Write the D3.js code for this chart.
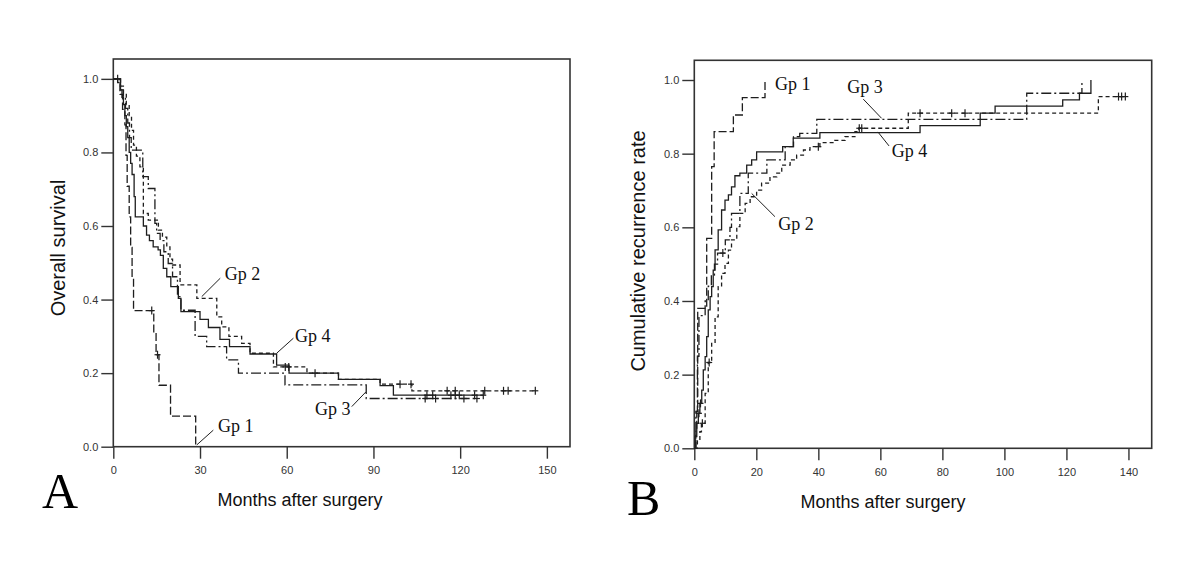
<!DOCTYPE html>
<html><head><meta charset="utf-8">
<script src="https://cdn.jsdelivr.net/npm/d3@7"></script>
<style>
html,body{margin:0;padding:0;background:#fff;}
svg{display:block;}
</style></head>
<body>
<svg id="chart" width="1200" height="572"></svg>
<script>
// ---------- DATA ----------
const groups = ["Gp 1", "Gp 2", "Gp 3", "Gp 4"];
const monthTicksA = [0, 30, 60, 90, 120, 150];
const monthTicksB = [0, 20, 40, 60, 80, 100, 120, 140];
const rateTicks = [0.0, 0.2, 0.4, 0.6, 0.8, 1.0];

// Panel A: overall survival, step points [month, survival]
const survGp1 = [[0,1],[2.3,0.958],[3.2,0.917],[4.0,0.875],[4.4,0.792],[4.8,0.708],[5.5,0.625],[6.0,0.542],[6.5,0.458],[7.0,0.37],[14.0,0.31],[14.8,0.25],[15.8,0.167],[19.8,0.083],[28.5,0]];
const survGp2 = [[0,1],[2.5,0.98],[3.5,0.96],[4.5,0.93],[5.5,0.90],[6.3,0.86],[7.0,0.82],[8.0,0.79],[9.2,0.761],[10.4,0.634],[12.1,0.616],[15.6,0.589],[17.0,0.57],[18.5,0.543],[19.6,0.51],[20.5,0.494],[23.1,0.44],[28.9,0.403],[35.8,0.353],[37.5,0.326],[40.0,0.30],[44.4,0.281],[47.3,0.254],[55.4,0.217],[67.0,0.2],[77.9,0.183],[92.3,0.17],[103.3,0.152]];
const survGp3 = [[0,1],[1.5,0.99],[2.5,0.97],[3.5,0.95],[4.2,0.92],[5.0,0.88],[5.6,0.84],[6.2,0.806],[10.2,0.734],[12.1,0.702],[14.4,0.607],[15.0,0.58],[16.2,0.56],[17.5,0.53],[19.0,0.498],[20.5,0.462],[22.2,0.408],[23.4,0.371],[28.3,0.30],[32.3,0.272],[39.2,0.236],[43.3,0.2],[59.4,0.168],[87.5,0.131]];
const survGp4 = [[0,1],[2.5,0.97],[3.0,0.95],[3.5,0.93],[4.0,0.90],[4.5,0.87],[5.0,0.84],[5.5,0.80],[6.0,0.77],[6.5,0.74],[7.2,0.68],[7.6,0.625],[10.4,0.60],[11.5,0.575],[12.5,0.56],[13.8,0.543],[15.5,0.535],[16.3,0.52],[17.3,0.485],[18.5,0.462],[19.9,0.435],[22.5,0.403],[23.4,0.367],[30.0,0.346],[32.9,0.324],[36.9,0.292],[40.2,0.272],[47.3,0.252],[56.5,0.222],[60.8,0.2],[77.9,0.183],[92.3,0.166],[96.9,0.14]];
const survEnd = [28.5, 146, 125.8, 128];
const survCensGp1 = [13.3, 15.3];
const survCensGp2 = [59.5, 60.7, 99.2, 103.0, 115.5, 118.3, 128.5, 135.0, 136.6, 146.0];
const survCensGp3 = [107.9, 111.5, 121.3, 125.8];
const survCensGp4 = [1.5, 69.8, 108.5, 110.5, 116.8, 118.3, 119.7, 125.0, 128.0];

// Panel B: cumulative recurrence rate, step points [month, rate]
const recGp1 = [[0,0],[0.5,0.05],[0.8,0.1],[1.1,0.38],[4.0,0.57],[5.6,0.765],[6.4,0.86],[12.6,0.905],[15.5,0.952],[22.8,1.0]];
const recGp2 = [[0,0],[1.0,0.02],[1.8,0.045],[2.3,0.068],[3.5,0.149],[4.5,0.233],[5.6,0.285],[6.7,0.357],[7.7,0.439],[8.8,0.475],[9.9,0.502],[11.0,0.538],[12.0,0.566],[13.7,0.602],[14.7,0.638],[16.4,0.665],[18.0,0.683],[20.1,0.701],[21.7,0.72],[24.4,0.737],[26.6,0.747],[28.2,0.769],[30.9,0.783],[33.0,0.796],[35.2,0.81],[37.3,0.819],[40.5,0.83],[45.3,0.836],[48.6,0.846],[51.8,0.86],[53.0,0.869],[69.0,0.91],[130.3,0.955]];
const recGp3 = [[0,0],[0.5,0.1],[1.0,0.25],[1.5,0.36],[3.5,0.40],[4.5,0.44],[5.5,0.47],[6.5,0.50],[7.5,0.53],[10.0,0.566],[11.5,0.60],[12.0,0.638],[14.7,0.692],[17.4,0.747],[23.4,0.783],[29.3,0.819],[32.0,0.846],[34.0,0.855],[39.5,0.893],[107.2,0.964],[125.0,1.0]];
const recGp4 = [[0,0],[0.3,0.032],[0.8,0.068],[1.3,0.095],[1.8,0.122],[2.4,0.158],[2.9,0.213],[3.5,0.249],[4.0,0.303],[4.5,0.376],[5.1,0.412],[5.6,0.439],[6.1,0.484],[6.7,0.539],[7.7,0.593],[8.8,0.647],[9.9,0.674],[11.0,0.688],[12.0,0.71],[13.1,0.74],[14.7,0.747],[16.9,0.769],[18.5,0.783],[20.1,0.805],[28.5,0.819],[31.9,0.842],[40.5,0.857],[72.8,0.876],[92.2,0.91],[97.0,0.929],[118.8,0.946],[124.2,0.964],[127.9,1.0]];
const recEnd = [22.8, 139, 125, 127.9];
const recCensGp1 = [];
const recCensGp2 = [2.6, 4.8, 40.0, 53.2, 54.0, 72.8, 83.0, 87.3, 136.8, 137.8, 139.0];
const recCensGp3 = [9.2];
const recCensGp4 = [1.5, 2.0];

// Group labels: [text month, text value, pointer from month, value, pointer to month, value]
const labelsA = [
  ["Gp 1", 36.2, 0.041, 34.6, 0.045, 28.9, 0.005],
  ["Gp 2", 38.6, 0.453, 37.0, 0.458, 30.6, 0.408],
  ["Gp 3", 69.8, 0.086, 82.5, 0.109, 87.4, 0.149],
  ["Gp 4", 62.9, 0.285, 62.3, 0.295, 56.5, 0.254]
];
const labelsB = [
  ["Gp 1", 26.0, 0.973, null, null, null, null],
  ["Gp 2", 27.1, 0.593, 26.0, 0.629, 18.5, 0.692],
  ["Gp 3", 49.3, 0.964, 54.5, 0.948, 60.4, 0.896],
  ["Gp 4", 63.7, 0.792, 62.8, 0.821, 59.2, 0.859]
];

// ---------- STYLE ----------
const dashes = ["8,3", "4,3", "10,3,2,3", null];
const ink = "#1e1e1e";
const axisInk = "#333";

const svg = d3.select("#chart");

function stepValue(pts, t) {
  let v = pts[0][1];
  for (const p of pts) { if (p[0] <= t) v = p[1]; else break; }
  return v;
}

function drawPanel(o) {
  const x = d3.scaleLinear().domain(o.xDomain).range(o.xRange);
  const y = d3.scaleLinear().domain(o.yDomain).range(o.yRange);
  const g = svg.append("g");

  // box
  g.append("rect")
    .attr("x", o.xRange[0]).attr("y", o.yRange[1])
    .attr("width", o.xRange[1] - o.xRange[0]).attr("height", o.yRange[0] - o.yRange[1])
    .attr("fill", "none").attr("stroke", axisInk).attr("stroke-width", 1.6);

  // y axis
  const ya = g.append("g").attr("transform", `translate(${o.xRange[0]},0)`)
    .call(d3.axisLeft(y).tickValues(rateTicks).tickSize(12).tickSizeOuter(0).tickPadding(3).tickFormat(d3.format(".1f")));
  // x axis
  const xa = g.append("g").attr("transform", `translate(0,${o.yRange[0]})`)
    .call(d3.axisBottom(x).tickValues(o.xTicks).tickSize(12).tickSizeOuter(0).tickPadding(8).tickFormat(d3.format("d")));
  [ya, xa].forEach(a => {
    a.select(".domain").remove();
    a.selectAll("line").attr("stroke", axisInk).attr("stroke-width", 1.4);
    a.selectAll("text").attr("fill", "#333").style("font-family", "'Liberation Sans', Arial, sans-serif").style("font-size", "11px");
  });

  // curves
  const line = d3.line().x(d => x(d[0])).y(d => y(d[1])).curve(d3.curveStepAfter);
  o.series.forEach((pts, i) => {
    const last = pts[pts.length - 1];
    const full = o.ends[i] > last[0] ? pts.concat([[o.ends[i], last[1]]]) : pts;
    const p = g.append("path").datum(full).attr("d", line)
      .attr("fill", "none").attr("stroke", ink).attr("stroke-width", 1.3);
    if (dashes[i]) p.attr("stroke-dasharray", dashes[i]);
    // censor marks
    o.cens[i].forEach(t => {
      const cx = x(t), cy = y(stepValue(pts, t));
      g.append("line").attr("x1", cx).attr("x2", cx).attr("y1", cy - 4).attr("y2", cy + 4)
        .attr("stroke", ink).attr("stroke-width", 1.2);
      g.append("line").attr("x1", cx - 3).attr("x2", cx + 3).attr("y1", cy).attr("y2", cy)
        .attr("stroke", ink).attr("stroke-width", 1.2);
    });
  });

  // group labels
  o.labels.forEach(l => {
    g.append("text").attr("x", x(l[1])).attr("y", y(l[2])).text(l[0])
      .attr("fill", "#111").style("font-family", "'Liberation Serif', 'Times New Roman', serif").style("font-size", "18px");
    if (l[3] !== null) {
      g.append("line").attr("x1", x(l[3])).attr("y1", y(l[4])).attr("x2", x(l[5])).attr("y2", y(l[6]))
        .attr("stroke", ink).attr("stroke-width", 1);
    }
  });

  // axis titles
  g.append("text").attr("transform", `translate(${o.yTitlePos[0]},${o.yTitlePos[1]}) rotate(-90)`)
    .attr("text-anchor", "middle").attr("dominant-baseline", "central").text(o.yTitle)
    .attr("fill", "#111").style("font-family", "'Liberation Sans', Arial, sans-serif").style("font-size", "20px");
  g.append("text").attr("x", o.xTitlePos[0]).attr("y", o.xTitlePos[1])
    .attr("text-anchor", "middle").text("Months after surgery")
    .attr("fill", "#111").style("font-family", "'Liberation Sans', Arial, sans-serif").style("font-size", "18px");
  // panel letter
  g.append("text").attr("x", o.letterPos[0]).attr("y", o.letterPos[1]).text(o.letter)
    .attr("fill", "#000").style("font-family", "'Liberation Serif', 'Times New Roman', serif").style("font-size", "50px");
}

drawPanel({
  xDomain: [0, 158], xRange: [113.3, 570],
  yDomain: [0, 1.054], yRange: [446.7, 59],
  xTicks: monthTicksA,
  series: [survGp1, survGp2, survGp3, survGp4],
  ends: survEnd,
  cens: [survCensGp1, survCensGp2, survCensGp3, survCensGp4],
  labels: labelsA,
  yTitle: "Overall survival", yTitlePos: [58, 248],
  xTitlePos: [300, 506],
  letter: "A", letterPos: [42, 508]
});

drawPanel({
  xDomain: [0, 147.5], xRange: [694.3, 1151.7],
  yDomain: [0, 1.0535], yRange: [448.3, 60.3],
  xTicks: monthTicksB,
  series: [recGp1, recGp2, recGp3, recGp4],
  ends: recEnd,
  cens: [recCensGp1, recCensGp2, recCensGp3, recCensGp4],
  labels: labelsB,
  yTitle: "Cumulative recurrence rate", yTitlePos: [638, 251],
  xTitlePos: [883, 508],
  letter: "B", letterPos: [627, 515]
});
</script>
</body></html>
